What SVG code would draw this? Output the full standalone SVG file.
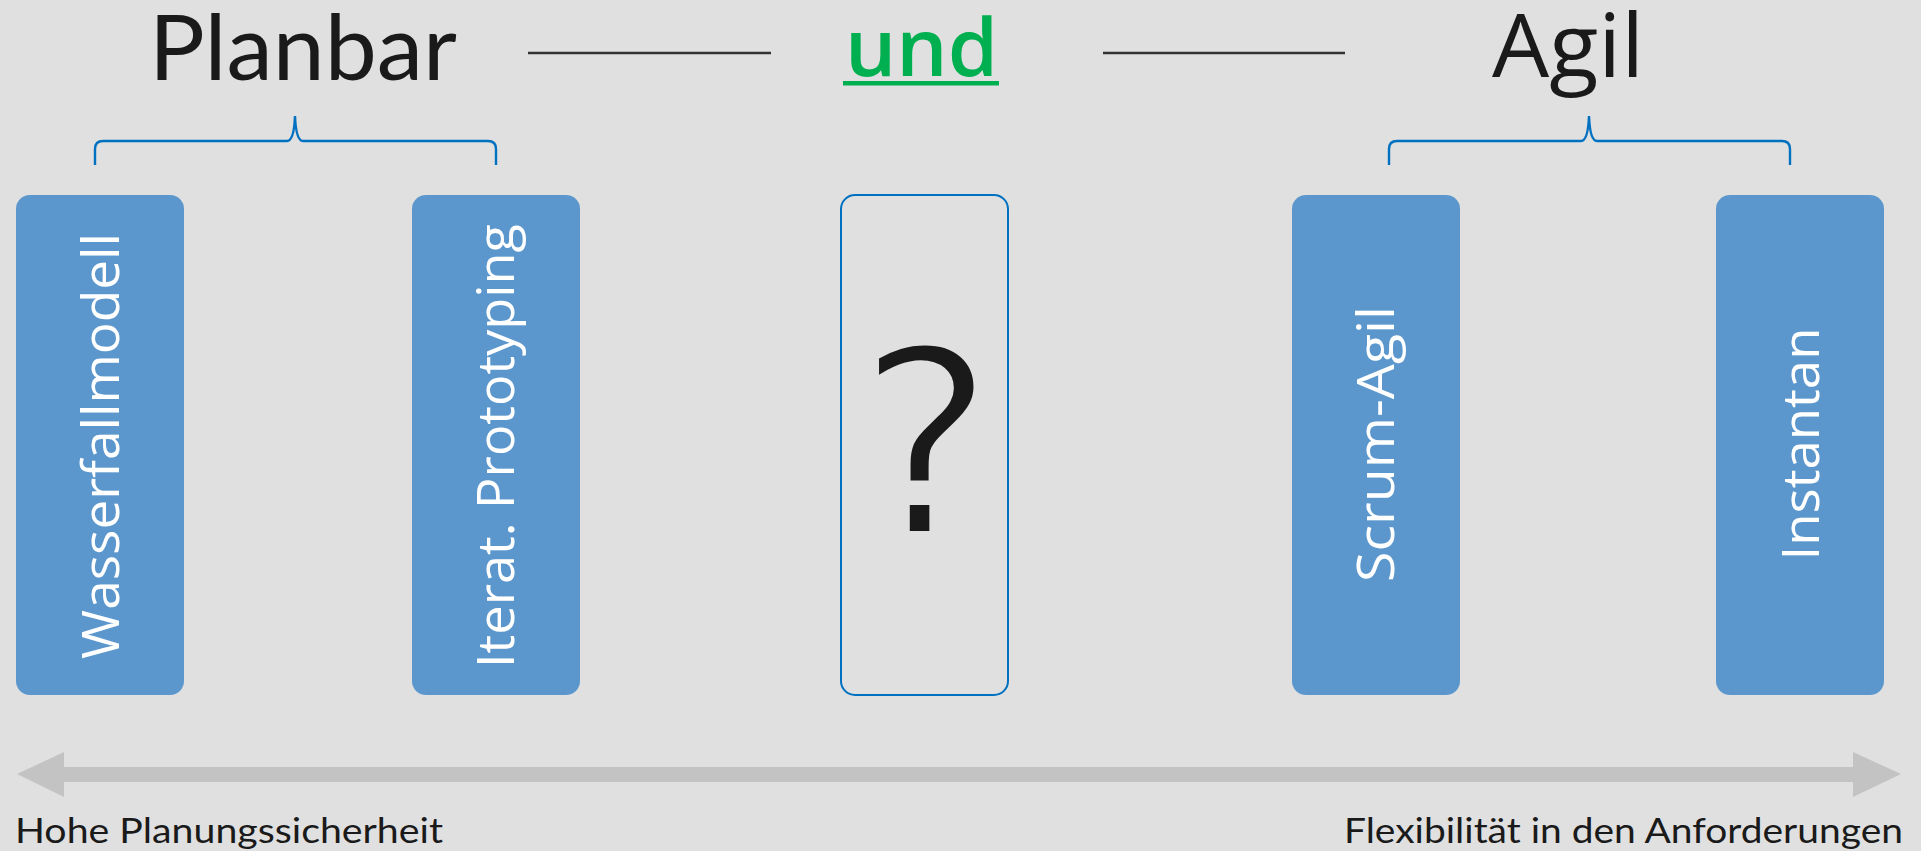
<svg xmlns="http://www.w3.org/2000/svg" width="1921" height="851" viewBox="0 0 1921 851">
  <style>
    .head { font-family: Lato, "Open Sans", sans-serif; fill: #1a1a1a; }
    .seg { font-family: "Open Sans", "Noto Sans", sans-serif; fill: #1a1a1a; }
    .box { fill: #5b97cd; }
    .boxlabel { font-family: "Open Sans", Lato, sans-serif; fill: #ffffff; font-size: 52px; text-anchor: middle; }
    .rule { stroke: #333333; stroke-width: 2.5; fill: none; }
    .brace { stroke: #0070c0; stroke-width: 2.4; fill: none; }
    .foot { font-family: Lato, "Open Sans", sans-serif; fill: #1a1a1a; font-size: 34px; }
  </style>

  <rect x="0" y="0" width="1921" height="851" fill="#e0e0e0"/>

  <!-- title row -->
  <g id="title">
    <text class="head" x="149" y="80" font-size="92" textLength="308" lengthAdjust="spacingAndGlyphs">Planbar</text>
    <text class="seg" x="845" y="76" font-size="80" font-weight="600" style="fill:#00b050" textLength="153" lengthAdjust="spacingAndGlyphs">und</text>
    <rect x="843" y="81" width="156" height="4.5" fill="#00b050"/>
    <text class="seg" x="1492" y="77" font-size="88" textLength="152" lengthAdjust="spacingAndGlyphs">Agil</text>
  </g>

  <!-- connectors: title rules, braces, axis -->
  <g id="connectors">
    <line class="rule" x1="528" y1="53" x2="771" y2="53"/>
    <line class="rule" x1="1103" y1="53" x2="1345" y2="53"/>
    <path class="brace" d="M95,165 L95,149 Q95,141 103,141 L287,141 Q294,141 295,116 Q296,141 303,141 L488,141 Q496,141 496,149 L496,165"/>
    <path class="brace" d="M1389,165 L1389,149 Q1389,141 1397,141 L1581,141 Q1588,141 1589,116 Q1590,141 1597,141 L1782,141 Q1790,141 1790,149 L1790,165"/>
    <polygon fill="#c3c3c3" points="17,774 64,752 64,767 1853,767 1853,752 1901,774 1853,797 1853,782 64,782 64,797"/>
  </g>

  <g id="node-wasserfall">
    <rect class="box" x="16" y="195" width="168" height="500" rx="14"/>
    <text class="boxlabel" transform="translate(119,446) rotate(-90)" textLength="426" lengthAdjust="spacingAndGlyphs">Wasserfallmodell</text>
  </g>

  <g id="node-prototyping">
    <rect class="box" x="412" y="195" width="168" height="500" rx="14"/>
    <text class="boxlabel" transform="translate(514,446) rotate(-90)" textLength="444" lengthAdjust="spacingAndGlyphs">Iterat. Prototyping</text>
  </g>

  <g id="node-unknown">
    <rect x="841" y="195" width="167" height="500" rx="14" fill="none" stroke="#0070c0" stroke-width="2"/>
    <!-- background-coloured outline trims the glyph to a lighter weight -->
    <text x="926" y="534" font-family="'DejaVu Sans', sans-serif" font-size="258" fill="#1a1a1a" stroke="#e0e0e0" stroke-width="6" text-anchor="middle">?</text>
  </g>

  <g id="node-scrum">
    <rect class="box" x="1292" y="195" width="168" height="500" rx="14"/>
    <text class="boxlabel" transform="translate(1394,444) rotate(-90)" textLength="276" lengthAdjust="spacingAndGlyphs">Scrum-Agil</text>
  </g>

  <g id="node-instantan">
    <rect class="box" x="1716" y="195" width="168" height="500" rx="14"/>
    <text class="boxlabel" transform="translate(1819,444) rotate(-90)" textLength="233" lengthAdjust="spacingAndGlyphs">Instantan</text>
  </g>

  <g id="axis-labels">
    <text class="foot" x="15" y="843" textLength="428" lengthAdjust="spacingAndGlyphs">Hohe Planungssicherheit</text>
    <text class="foot" x="1344" y="843" textLength="559" lengthAdjust="spacingAndGlyphs">Flexibilität in den Anforderungen</text>
  </g>
</svg>
